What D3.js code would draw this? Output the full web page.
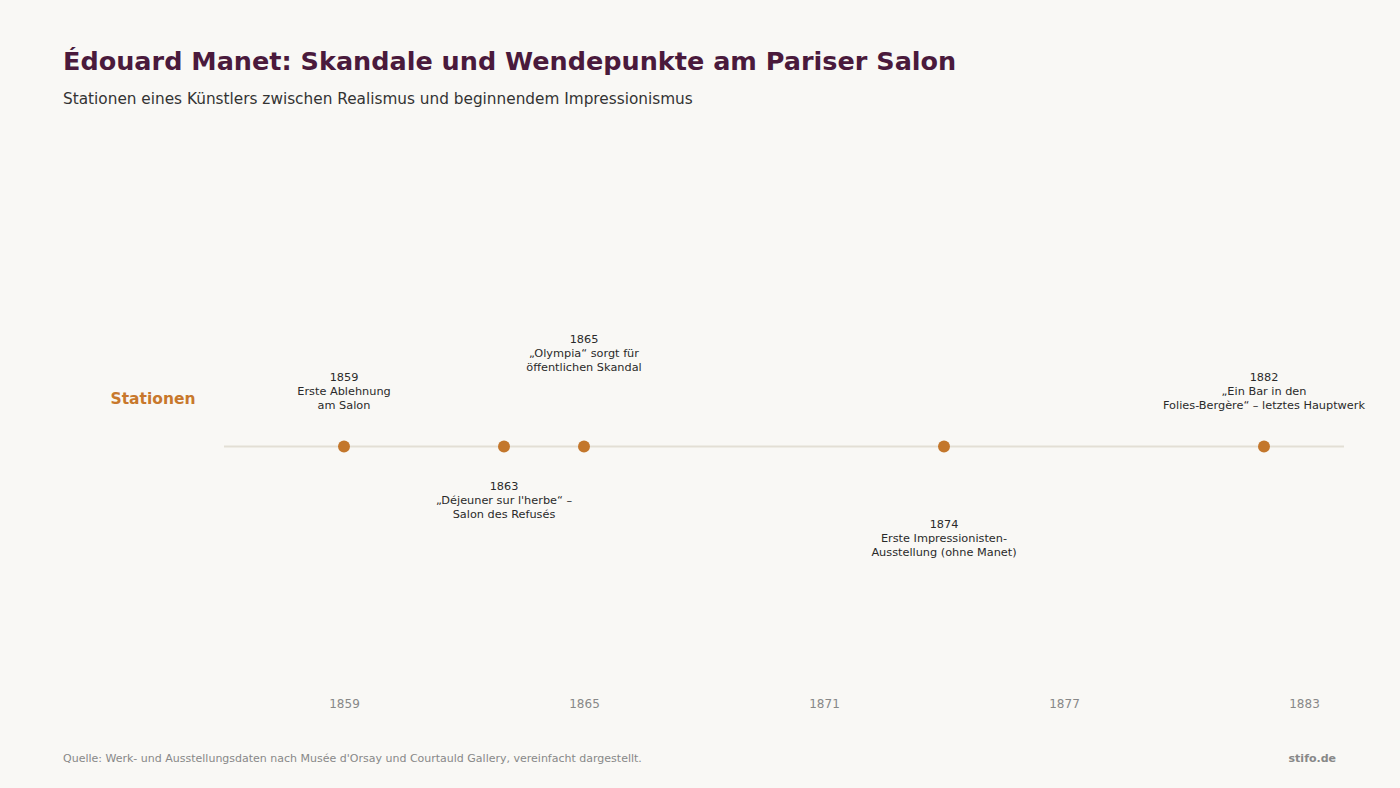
<!DOCTYPE html>
<html><head><meta charset="utf-8">
<script src="https://cdn.jsdelivr.net/npm/d3@7"></script>
<style>
html,body{margin:0;padding:0;background:#f9f8f5;}
svg{display:block;font-family:"DejaVu Sans",sans-serif;}
</style></head>
<body><svg id="chart" width="1400" height="788"></svg>
<script>
const years = [1859, 1863, 1865, 1874, 1882];
const labels = [
  ["1859", "Erste Ablehnung", "am Salon"],
  ["1863", "„Déjeuner sur l'herbe“ –", "Salon des Refusés"],
  ["1865", "„Olympia“ sorgt für", "öffentlichen Skandal"],
  ["1874", "Erste Impressionisten-", "Ausstellung (ohne Manet)"],
  ["1882", "„Ein Bar in den", "Folies-Bergère“ – letztes Hauptwerk"]
];
const placement = ["above", "below", "above2", "below2", "above"];
const tickYears = [1859, 1865, 1871, 1877, 1883];
const laneName = "Stationen";

const svg = d3.select("#chart");
const x = d3.scaleLinear().domain([1856, 1884]).range([224, 1344]);
const lineY = 446;

svg.append("text").attr("x", 63).attr("y", 70).attr("fill", "#4a1a3c")
  .attr("font-size", 25.5).attr("font-weight", "bold")
  .text("Édouard Manet: Skandale und Wendepunkte am Pariser Salon");
svg.append("text").attr("x", 63).attr("y", 104).attr("fill", "#333")
  .attr("font-size", 15.3)
  .text("Stationen eines Künstlers zwischen Realismus und beginnendem Impressionismus");

svg.append("text").attr("x", 195.5).attr("y", 403.5).attr("text-anchor", "end")
  .attr("fill", "#c8782c").attr("font-size", 15.5).attr("font-weight", "bold")
  .text(laneName);

svg.append("line").attr("x1", x.range()[0]).attr("x2", x.range()[1])
  .attr("y1", lineY + 0.5).attr("y2", lineY + 0.5).attr("stroke", "#e3dfd5").attr("stroke-width", 2);

const firstLineY = {above: 381, above2: 343, below: 490, below2: 528};
const g = svg.append("g");
years.forEach((yr, i) => {
  const t = g.append("text").attr("text-anchor", "middle").attr("fill", "#2a2a2a")
    .attr("font-size", 11.3);
  labels[i].forEach((s, j) => {
    t.append("tspan").attr("x", x(yr)).attr("y", firstLineY[placement[i]] + j * 14).text(s);
  });
});
g.selectAll("circle").data(years).join("circle")
  .attr("cx", d => x(d)).attr("cy", lineY + 0.5).attr("r", 6).attr("fill", "#c3772c");

const axis = d3.axisBottom(x).tickValues(tickYears).tickFormat(d3.format("d")).tickSize(0).tickPadding(0);
const ag = svg.append("g").attr("transform", "translate(0,699)").call(axis);
ag.select(".domain").remove();
ag.selectAll("text").attr("fill", "#888").attr("font-size", 12)
  .attr("font-family", "DejaVu Sans, sans-serif").attr("dy", "0.71em");

svg.append("text").attr("x", 63).attr("y", 762).attr("fill", "#888").attr("font-size", 11)
  .text("Quelle: Werk- und Ausstellungsdaten nach Musée d'Orsay und Courtauld Gallery, vereinfacht dargestellt.");
svg.append("text").attr("x", 1336).attr("y", 762).attr("text-anchor", "end").attr("fill", "#888")
  .attr("font-size", 11).attr("font-weight", "bold").text("stifo.de");
</script></body></html>
